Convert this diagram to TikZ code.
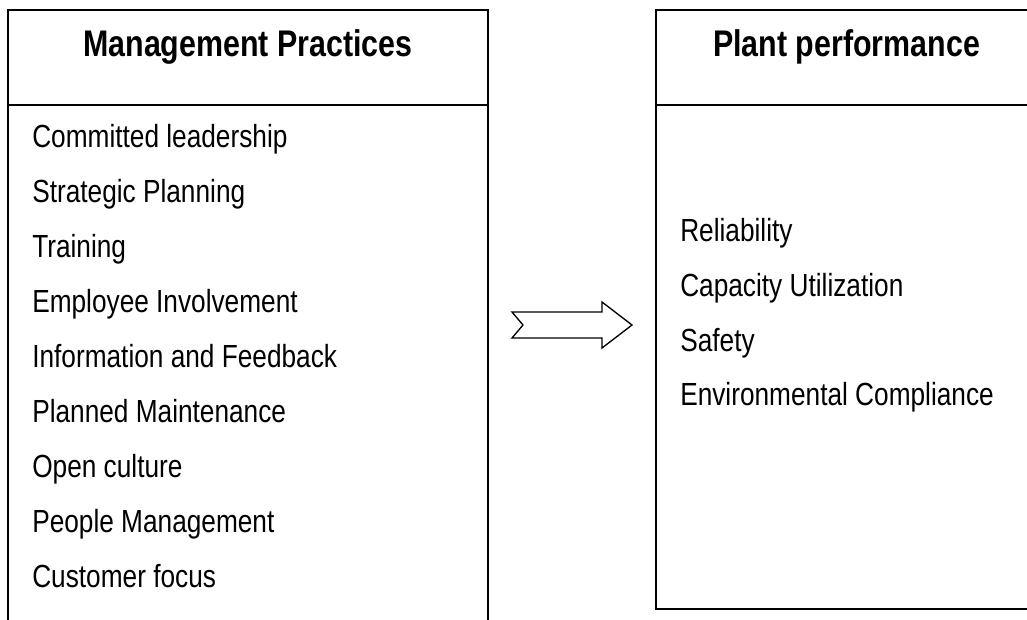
\documentclass[tikz,border=0pt]{standalone}
\usepackage{fontspec}
\setmainfont{Liberation Sans}[FakeStretch=0.82]
\tikzstyle{heading}=[anchor=base,inner sep=0pt,font=\fontsize{27.8}{32}\bfseries]
\tikzstyle{item}=[anchor=base west,inner sep=0pt,font=\fontsize{24}{28}\selectfont]
\tikzstyle{frame}=[line width=1.5pt]

\begin{document}
\begin{tikzpicture}[x=0.75pt,y=-0.75pt]
    \clip (0,0) rectangle (1027,620);

    % left box, open at the bottom
    \draw[frame] (8,630) -- (8,10) -- (488,10) -- (488,630);
    \draw[frame] (8,105) -- (488,105);
    \node[heading] (mp) at (248,57) {Management Practices};
    \foreach \txt [count=\i] in {Committed leadership,Strategic Planning,Training,
        Employee Involvement,Information and Feedback,Planned Maintenance,
        Open culture,People Management,Customer focus}
        \node[item] (m\i) at (32,{148+54.9*(\i-1)}) {\txt};

    % right box
    \draw[frame] (656,10) rectangle (1037,609);
    \draw[frame] (656,105) -- (1037,105);
    \node[heading] (pp) at (846.5,57) {Plant performance};
    \foreach \txt [count=\i] in {Reliability,Capacity Utilization,Safety,
        Environmental Compliance}
        \node[item] (p\i) at (680,{242+54.6*(\i-1)}) {\txt};

    % block arrow
    \draw[line width=1pt,line join=miter] (512,312) -- (602,312) -- (602,302) -- (632,325)
        -- (602,348) -- (602,338) -- (512,338) -- (523,325) -- cycle;
\end{tikzpicture}
\end{document}
